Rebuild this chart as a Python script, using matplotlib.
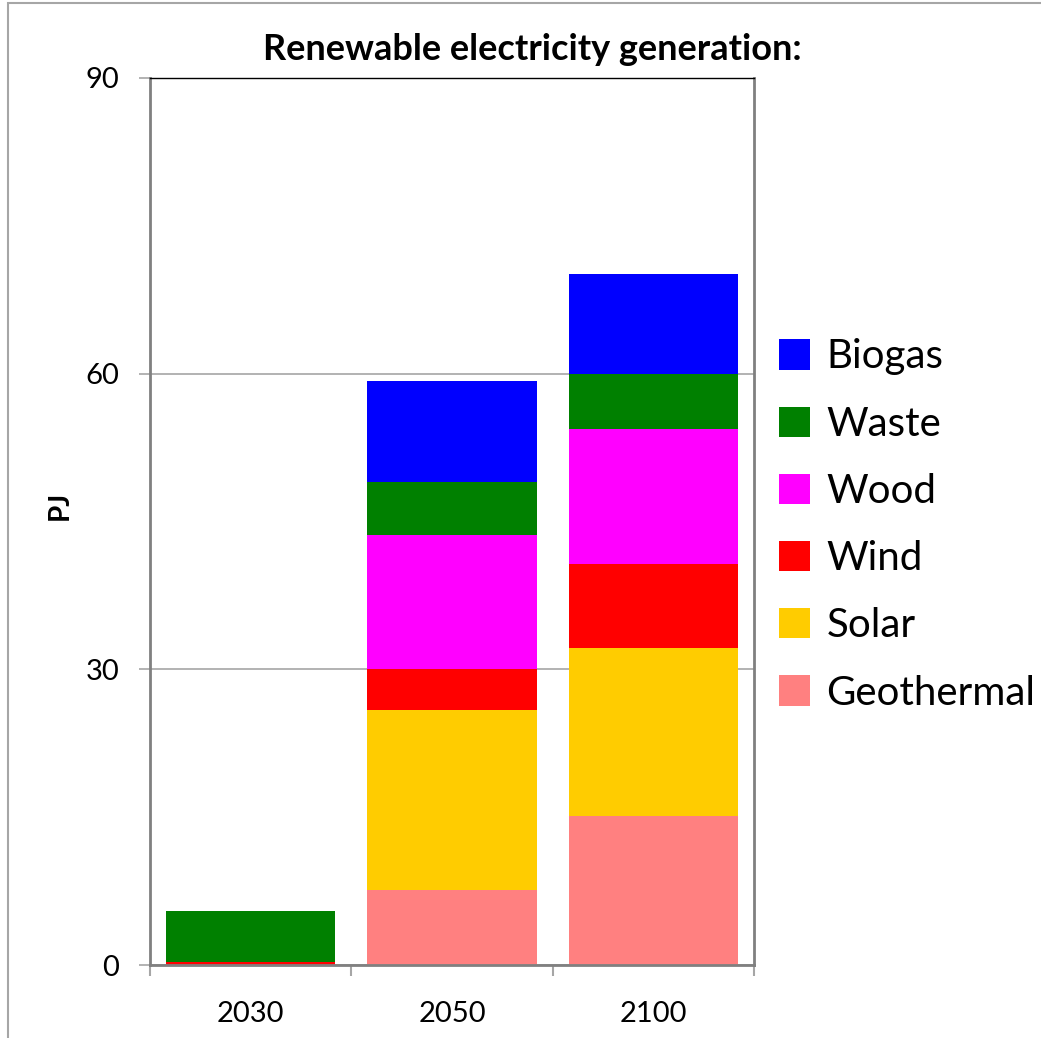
import matplotlib
matplotlib.use("Agg")
import matplotlib.pyplot as plt
from matplotlib.patches import Rectangle, Patch
import numpy as np

plt.rcParams['font.family'] = ['Lato', 'DejaVu Sans']

years = ["2030", "2050", "2100"]
sources = ["Geothermal", "Solar", "Wind", "Wood", "Waste", "Biogas"]
colors = ["#FF8080", "#FFCC00", "#FF0000", "#FF00FF", "#008000", "#0000FF"]

geothermal = [0.0, 7.6, 15.15]
solar = [0.0, 18.3, 17.0]
wind = [0.3, 4.1, 8.5]
wood = [0.0, 13.6, 13.7]
waste = [5.2, 5.4, 5.6]
biogas = [0.0, 10.3, 10.2]

series = [geothermal, solar, wind, wood, waste, biogas]

fig = plt.figure(figsize=(10.41, 10.38), dpi=100)
ax = fig.add_axes([150 / 1041, 73 / 1038, 604 / 1041, 887 / 1038])

# outer chart frame
fig.patches.append(Rectangle((8 / 1041, -0.05), 1.1, (1038 - 3) / 1038 + 0.05,
                             transform=fig.transFigure, fill=False,
                             edgecolor="#a6a6a6", linewidth=1.5, zorder=0))

x = np.arange(len(years))
bottom = np.zeros(len(years))
for vals, col in zip(series, colors):
    ax.bar(x, vals, width=0.84, bottom=bottom, color=col, edgecolor="none", zorder=2)
    bottom += np.array(vals)

ax.set_xlim(-0.5, 2.5)
ax.set_ylim(0, 90)
ax.set_yticks([0, 30, 60, 90])
ax.set_yticklabels(["0", "30", "60", "90"], fontsize=21)
ax.yaxis.grid(True, color="#a6a6a6", linewidth=1.2, zorder=1)
ax.set_axisbelow(True)

# category labels centred between boundary ticks
ax.set_xticks([-0.5, 0.5, 1.5, 2.5])
ax.set_xticklabels([])
ax.set_xticks(x, minor=True)
ax.set_xticklabels(years, minor=True, fontsize=21)
ax.tick_params(axis="x", which="minor", length=0, pad=26)
ax.tick_params(axis="x", which="major", length=8, color="#a6a6a6", width=1.5, direction="out")
ax.tick_params(axis="y", length=8, color="#a6a6a6", width=1.2, direction="out", pad=14)

for side in ["left", "bottom", "right"]:
    ax.spines[side].set_color("#808080")
    ax.spines[side].set_linewidth(2)
ax.spines["top"].set_color("#000000")
ax.spines["top"].set_linewidth(1)

fig.text(60 / 1041, 1 - 505 / 1038, "PJ", rotation=90, ha="center", va="center",
         fontsize=20, fontweight="bold")
fig.text(532 / 1041, 1 - 50 / 1038, "Renewable electricity generation:",
         ha="center", va="center", fontsize=26, fontweight="bold")

handles = [Patch(facecolor=c, edgecolor="none") for c in colors][::-1]
labels = sources[::-1]
fig.legend(handles, labels, loc="center left", bbox_to_anchor=(779 / 1041, 1 - 525 / 1038),
           frameon=False, fontsize=29, handlelength=0.78, handleheight=0.78,
           handletextpad=0.4, labelspacing=0.75, borderaxespad=0, borderpad=0)

fig.savefig("out.png", dpi=100)
